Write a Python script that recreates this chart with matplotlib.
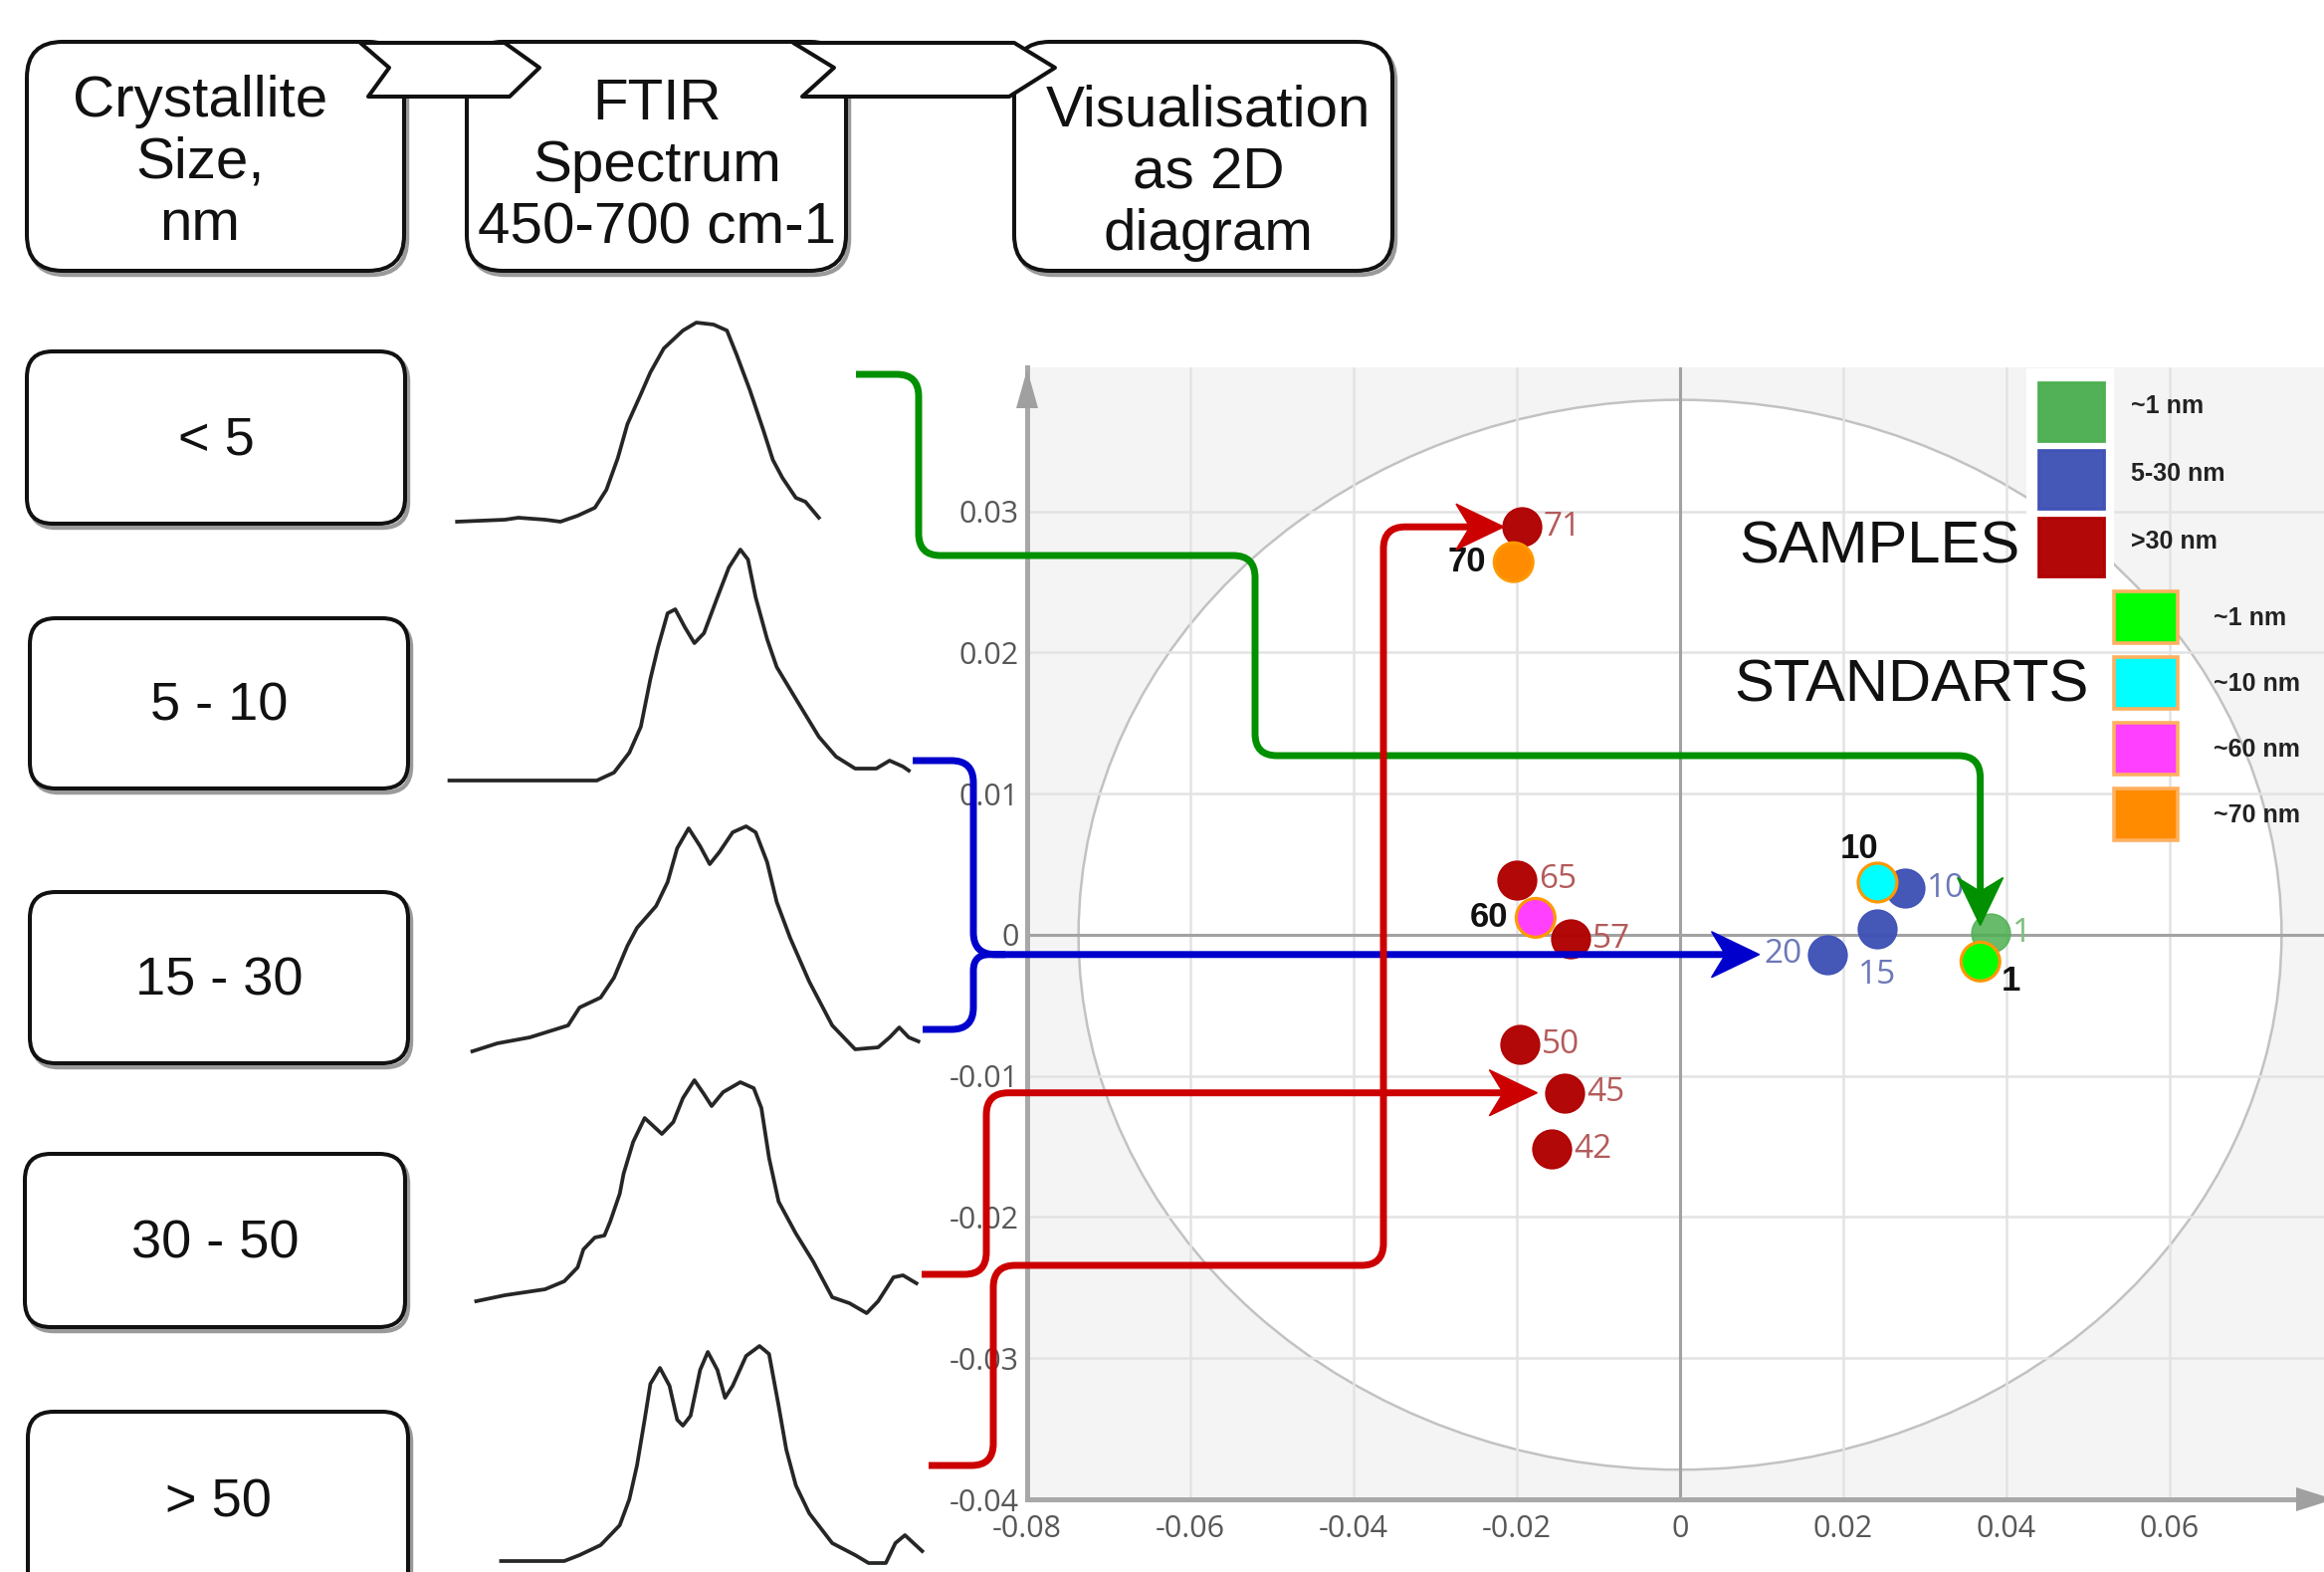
import numpy as np
import matplotlib
matplotlib.use('Agg')
import matplotlib.pyplot as plt
from matplotlib.patches import FancyBboxPatch, Polygon, Ellipse, PathPatch, Rectangle
from matplotlib.path import Path

plt.rcParams['font.family'] = ['Liberation Sans', 'DejaVu Sans']
plt.rcParams['axes.unicode_minus'] = False

W, H = 2335, 1579

# ── data ──────────────────────────────────────────────────────────────────────
header_labels = ['Crystallite\nSize,\nnm', 'FTIR\nSpectrum\n450-700 cm-1', 'Visualisation\nas 2D\ndiagram']
row_labels = ['< 5', '5 - 10', '15 - 30', '30 - 50', '> 50']

# FTIR spectra (wavenumber, cm-1 / absorbance, a.u.), one per size class
wn_lt5 = [455, 480, 487, 501, 509, 518, 527, 533, 539, 544, 551, 556, 563, 573, 580, 589, 596, 601, 608, 615,
          620, 625, 632, 637, 644]
ab_lt5 = [0.03, 0.04, 0.05, 0.04, 0.03, 0.06, 0.10, 0.19, 0.35, 0.52, 0.67, 0.78, 0.90, 0.99, 1.03, 1.02, 0.99,
          0.87, 0.69, 0.49, 0.34, 0.25, 0.15, 0.13, 0.05]
wn_5_10 = [451, 497, 528, 537, 545, 551, 556, 560, 565, 569, 574, 579, 584, 591, 597, 603, 607, 611, 617, 622,
           632, 644, 653, 663, 674, 681, 688, 691]
ab_5_10 = [0.03, 0.03, 0.03, 0.07, 0.17, 0.30, 0.54, 0.70, 0.87, 0.89, 0.80, 0.72, 0.77, 0.95, 1.10, 1.19, 1.14,
           0.95, 0.74, 0.60, 0.44, 0.25, 0.15, 0.09, 0.09, 0.13, 0.10, 0.08]
wn_15_30 = [463, 476, 493, 513, 519, 530, 537, 544, 549, 559, 565, 570, 576, 582, 587, 592, 599, 606, 611, 617,
            622, 629, 639, 651, 663, 675, 681, 686, 691, 696]
ab_15_30 = [0.02, 0.06, 0.09, 0.15, 0.24, 0.29, 0.39, 0.55, 0.64, 0.75, 0.87, 1.04, 1.14, 1.05, 0.96, 1.02, 1.12,
            1.15, 1.12, 0.97, 0.77, 0.59, 0.37, 0.15, 0.03, 0.04, 0.09, 0.14, 0.09, 0.07]
wn_30_50 = [465, 480, 501, 511, 518, 521, 527, 532, 535, 540, 542, 547, 553, 562, 568, 573, 579, 584, 588, 594,
            603, 610, 614, 618, 623, 632, 641, 651, 660, 669, 675, 683, 688, 695]
ab_30_50 = [0.09, 0.12, 0.15, 0.19, 0.26, 0.35, 0.41, 0.42, 0.49, 0.63, 0.73, 0.89, 1.01, 0.93, 0.99, 1.11, 1.20,
            1.13, 1.07, 1.14, 1.19, 1.16, 1.06, 0.81, 0.59, 0.43, 0.29, 0.11, 0.08, 0.03, 0.09, 0.21, 0.22, 0.18]
wn_gt50 = [478, 511, 519, 530, 540, 545, 549, 553, 556, 561, 566, 570, 573, 577, 582, 586, 591, 595, 599, 606,
           613, 618, 623, 627, 632, 639, 651, 663, 670, 679, 684, 689, 698]
ab_gt50 = [0.05, 0.05, 0.08, 0.13, 0.23, 0.36, 0.53, 0.76, 0.94, 1.02, 0.93, 0.76, 0.73, 0.78, 1.01, 1.10, 1.01,
           0.87, 0.93, 1.08, 1.13, 1.09, 0.83, 0.61, 0.43, 0.29, 0.14, 0.08, 0.04, 0.04, 0.14, 0.18, 0.10]
spectra = [(wn_lt5, ab_lt5), (wn_5_10, ab_5_10), (wn_15_30, ab_15_30), (wn_30_50, ab_30_50), (wn_gt50, ab_gt50)]

# 2D diagram – samples
sample_groups = ['~1 nm', '5-30 nm', '>30 nm']
sample_colors = ['#4caf50', '#3f51b5', '#b00000']
sample_text_colors = ['#7cbf7c', '#6b78b8', '#b45a5a']
s1_x, s1_y, s1_lab = [0.0380], [0.0001], ['1']
s2_x, s2_y, s2_lab = [0.0276, 0.0241, 0.0180], [0.0033, 0.0004, -0.0014], ['10', '15', '20']
s3_x = [-0.0194, -0.0200, -0.0134, -0.0196, -0.0141, -0.0157]
s3_y = [0.0289, 0.0039, -0.0003, -0.0078, -0.0112, -0.0152]
s3_lab = ['71', '65', '57', '50', '45', '42']

# 2D diagram – standards
std_names = ['~1 nm', '~10 nm', '~60 nm', '~70 nm']
std_colors = ['#00ff00', '#00ffff', '#ff40ff', '#ff8c00']
std_x = [0.0368, 0.0242, -0.0177, -0.0204]
std_y = [-0.0019, 0.0037, 0.0012, 0.0264]
std_lab = ['1', '10', '60', '70']

xticks = [-0.08, -0.06, -0.04, -0.02, 0, 0.02, 0.04, 0.06]
yticks = [-0.04, -0.03, -0.02, -0.01, 0, 0.01, 0.02, 0.03]

# ── helpers ───────────────────────────────────────────────────────────────────
def rounded_path(points, r):
    pts = [np.array(p, float) for p in points]
    verts, codes = [pts[0]], [Path.MOVETO]
    for i in range(1, len(pts) - 1):
        p0, p1, p2 = pts[i - 1], pts[i], pts[i + 1]
        l1, l2 = np.linalg.norm(p1 - p0), np.linalg.norm(p2 - p1)
        rr = min(r, l1 / 2, l2 / 2)
        a = p1 - (p1 - p0) / l1 * rr
        b = p1 + (p2 - p1) / l2 * rr
        verts += [a, p1, b]
        codes += [Path.LINETO, Path.CURVE3, Path.CURVE3]
    verts.append(pts[-1])
    codes.append(Path.LINETO)
    return Path(verts, codes)


def draw_arrow(axo, pts, color, head=True, lw=5, r=22, hl=48, hw=23, notch=14):
    pts = [np.array(p, float) for p in pts]
    if head:
        tip, prev = pts[-1], pts[-2]
        d = (tip - prev) / np.linalg.norm(tip - prev)
        n = np.array([-d[1], d[0]])
        base = tip - d * hl
        nt = tip - d * (hl - notch)
        pts = pts[:-1] + [nt + d * 3]
        axo.add_patch(Polygon([tip, base + n * hw, nt, base - n * hw], closed=True,
                              fc=color, ec=color, lw=1, zorder=6))
    axo.add_patch(PathPatch(rounded_path(pts, r), fill=False, ec=color, lw=lw,
                            capstyle='butt', joinstyle='round', zorder=5))


def overlay(z):
    a = fig.add_axes([0, 0, 1, 1], zorder=z)
    a.set_xlim(0, W)
    a.set_ylim(H, 0)
    a.axis('off')
    a.patch.set_alpha(0)
    return a


def rbox(axo, x0, y0, x1, y1, r):
    axo.add_patch(FancyBboxPatch((x0 + 3, y0 + 4), x1 - x0, y1 - y0,
                                 boxstyle=f'round,pad=0,rounding_size={r}',
                                 fc='none', ec='#9a9a9a', lw=3.2, zorder=1))
    axo.add_patch(FancyBboxPatch((x0, y0), x1 - x0, y1 - y0,
                                 boxstyle=f'round,pad=0,rounding_size={r}',
                                 fc='white', ec='#111111', lw=2.9, zorder=2))


# ── figure ────────────────────────────────────────────────────────────────────
fig = plt.figure(figsize=(W / 100, H / 100), dpi=100, facecolor='white')
bg = overlay(0)

# header boxes + chevrons
header_boxes = [(27, 42, 406, 272), (469, 42, 850, 272), (1019, 42, 1399, 272)]
header_text_pos = [(201, 164), (660, 167), (1214, 174)]
for (x0, y0, x1, y1), (tx, ty), lab in zip(header_boxes, header_text_pos, header_labels):
    rbox(bg, x0, y0, x1, y1, 36)
    bg.text(tx, ty, lab, ha='center', va='center', fontsize=42, linespacing=1.2,
            color='#111111', zorder=4)
for chev in [[(362, 43), (391, 68), (370, 97), (512, 97), (542, 68), (507, 43)],
             [(797, 43), (838, 68), (806, 97), (1014, 97), (1060, 68), (1019, 43)]]:
    bg.add_patch(Polygon(chev, closed=True, fc='white', ec='#111111', lw=2.9,
                         joinstyle='round', zorder=3))

# size-class boxes
row_boxes = [(27, 353, 407, 526), (30, 621, 410, 792), (30, 896, 410, 1068),
             (25, 1159, 407, 1333), (28, 1418, 410, 1620)]
for (x0, y0, x1, y1), lab in zip(row_boxes, row_labels):
    rbox(bg, x0, y0, x1, y1, 26)
    cy = (y0 + y1) / 2 if y1 < 1600 else 1506
    bg.text((x0 + x1) / 2, cy + 3, lab, ha='center', va='center', fontsize=39,
            color='#111111', zorder=4)

# spectra
panel_bottoms = [530, 790, 1060, 1325, 1578]
for (wn, ab), b in zip(spectra, panel_bottoms):
    sa = fig.add_axes([440 / W, (H - b) / H, 500 / W, 260 / H], zorder=1)
    sa.plot(wn, ab, color='#262626', lw=2.7, solid_joinstyle='round', clip_on=False)
    sa.set_xlim(445, 705)
    sa.set_ylim(0, 1.3)
    sa.axis('off')
    sa.patch.set_alpha(0)

# ── 2D diagram ────────────────────────────────────────────────────────────────
ax = fig.add_axes([1032 / W, (H - 1506) / H, (W - 1032) / W, (1506 - 369) / H], zorder=2)
ax.set_facecolor('#f4f4f4')
ax.set_xlim(-0.08, 0.0789)
ax.set_ylim(-0.04, 0.0402)
ax.set_xticks(xticks)
ax.set_yticks(yticks)
ax.set_xticklabels([f'{v:g}' for v in xticks])
ax.set_yticklabels([f'{v:g}' for v in yticks])
ax.set_axisbelow(True)
ax.grid(True, color='#e3e3e3', lw=1.8)
ax.tick_params(length=0, labelsize=22, labelcolor='#585858')
ax.tick_params(axis='x', pad=11)
ax.tick_params(axis='y', pad=6)
for t in ax.get_xticklabels() + ax.get_yticklabels():
    t.set_family(['Open Sans', 'DejaVu Sans'])
for s in ['top', 'right']:
    ax.spines[s].set_visible(False)
for s in ['left', 'bottom']:
    ax.spines[s].set_color('#a8a8a8')
    ax.spines[s].set_linewidth(3.6)
ax.add_patch(Ellipse((0, 0), 2 * 0.0737, 2 * 0.0379, fc='white', ec='#c2c2c2', lw=1.8, zorder=0.2))
ax.axhline(0, color='#a2a2a2', lw=2.2, zorder=0.6)
ax.axvline(0, color='#a2a2a2', lw=2.2, zorder=0.6)

ms = 28 ** 2
sample_sets = [(s1_x, s1_y, s1_lab), (s2_x, s2_y, s2_lab), (s3_x, s3_y, s3_lab)]
for (xs, ys, labs), c in zip(sample_sets, sample_colors):
    ax.scatter(xs, ys, s=ms, c=c, edgecolors=c, linewidths=1, alpha=0.97 if c != '#4caf50' else 0.85,
               zorder=3)
ax.scatter(std_x, std_y, s=ms, c=std_colors, edgecolors='#ff9800', linewidths=2.3, zorder=4)

# point labels (offset in pixels)
sample_offsets = {'15': (0, -46, 'center'), '20': (-25, 0, 'right')}
for (xs, ys, labs), tc in zip(sample_sets, sample_text_colors):
    for x, y, lab in zip(xs, ys, labs):
        dx, dy, ha = sample_offsets.get(lab, (22, 0, 'left'))
        ax.annotate(lab, (x, y), xytext=(dx, dy), textcoords='offset pixels', ha=ha, va='center',
                    fontsize=24, color=tc, family=['Open Sans', 'DejaVu Sans'], zorder=5)
std_offsets = [(21, -20, 'left'), (-18, 34, 'center'), (-28, 0, 'right'), (-28, 0, 'right')]
for x, y, lab, (dx, dy, ha) in zip(std_x, std_y, std_lab, std_offsets):
    ax.annotate(lab, (x, y), xytext=(dx, dy), textcoords='offset pixels', ha=ha, va='center',
                fontsize=25, fontweight='bold', color='#111111', zorder=5)

# ── overlay: axis arrows, legend, flow arrows ────────────────────────────────
top = overlay(5)
top.add_patch(Polygon([(1032, 371), (1021, 410), (1043, 410)], closed=True, fc='#a0a0a0', ec='none'))
top.add_patch(Polygon([(2307, 1494), (2307, 1518), (2345, 1506)], closed=True, fc='#a0a0a0', ec='none'))

# legend
top.add_patch(Rectangle((2036, 370), 88, 215, fc='white', ec='none', zorder=1))
for i, (name, c) in enumerate(zip(sample_groups, sample_colors)):
    y0 = 384 + i * 68
    top.add_patch(Rectangle((2048, y0), 66, 59, fc=c, ec=c, lw=2, alpha=0.97, zorder=2))
    top.text(2141, y0 + 24, name, ha='left', va='center', fontsize=18, fontweight='bold',
             color='#222222', zorder=2)
top.text(2030, 550, 'SAMPLES', ha='right', va='center', fontsize=43, color='#111111', zorder=2)
for i, (name, c) in enumerate(zip(std_names, std_colors)):
    y0 = 594 + i * 66
    top.add_patch(Rectangle((2124, y0), 64, 52, fc=c, ec='#ffb060', lw=2.6, zorder=2))
    top.text(2224, y0 + 27, name, ha='left', va='center', fontsize=18, fontweight='bold',
             color='#222222', zorder=2)
top.text(2099, 689, 'STANDARTS', ha='right', va='center', fontsize=43, color='#111111', zorder=2)


def to_px(x, y):
    px, py = ax.transData.transform((x, y))
    return px, H - py


GREEN, BLUE, RED = '#009000', '#0000cc', '#cc0000'
gx, gy = to_px(s1_x[0], s1_y[0])
draw_arrow(top, [(860, 376), (923, 376), (923, 558), (1261, 558), (1261, 759),
                 (gx - 10, 759), (gx - 10, gy - 8)], GREEN)
bx, by = to_px(s2_x[2], s2_y[2])
draw_arrow(top, [(917, 764), (978, 764), (978, by), (bx - 68, by)], BLUE)
draw_arrow(top, [(927, 1034), (978, 1034), (978, by), (1010, by)], BLUE, head=False)
rx, ry = to_px(s3_x[4], s3_y[4])
draw_arrow(top, [(926, 1280), (991, 1280), (991, ry), (rx - 28, ry)], RED)
rx2, ry2 = to_px(s3_x[0], s3_y[0])
draw_arrow(top, [(933, 1472), (998, 1472), (998, 1271), (1390, 1271), (1390, ry2), (rx2 - 18, ry2)], RED)

fig.savefig('out.png', dpi=100, facecolor='white')
